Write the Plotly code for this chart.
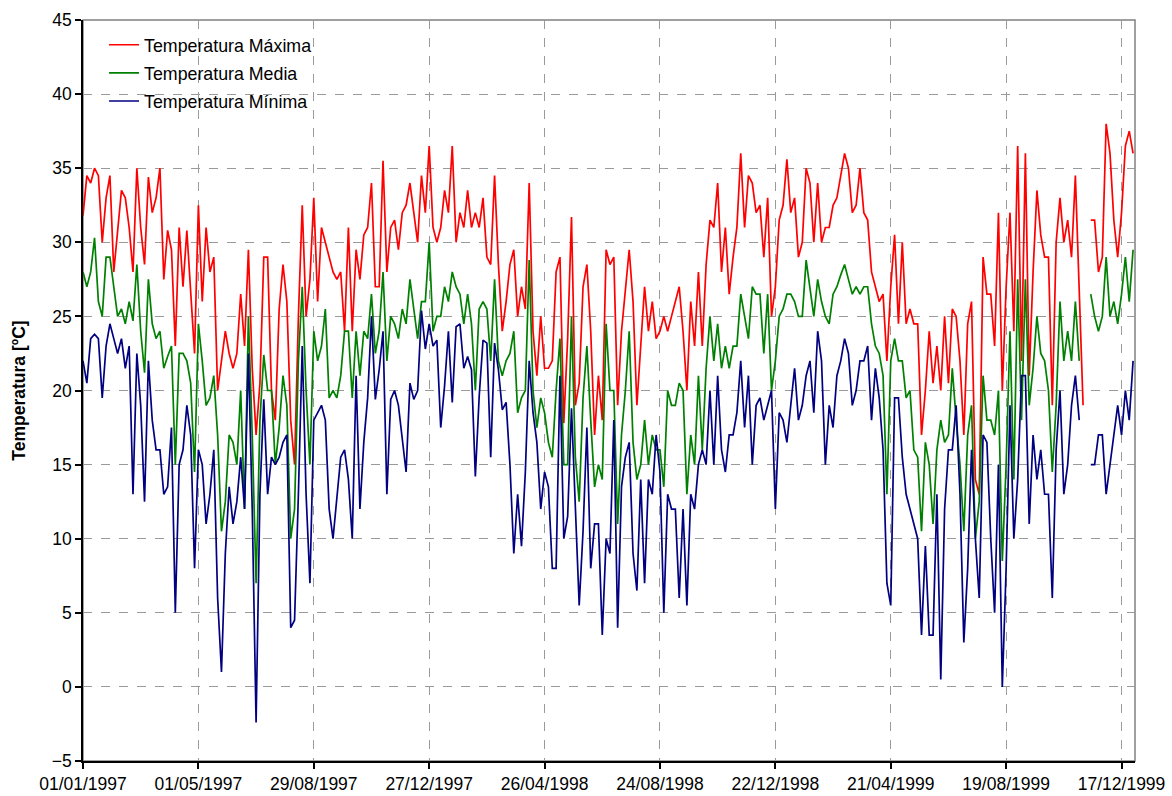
import pandas as pd
import plotly.graph_objects as go

# Sample dates (every 4 days, 01/01/1997 .. 29/12/1999)
dates = pd.date_range("1997-01-01", periods=274, freq="4D")

t_max = [
    31.8, 34.5, 34, 35, 34.5, 30, 33, 34.5, 28, 31, 33.5, 33, 31, 28, 35, 31, 28.5, 34.4, 32, 33,
    35, 27.5, 30.8, 29.5, 23, 31, 27, 30.8, 27, 22.5, 32.5, 26, 31, 28, 29, 20,
    22, 24, 22.5, 21.5, 22.5, 26.5, 23, 29.5, 21.5, 17, 20.5, 29, 29, 20, 18, 25.5, 28.5, 26, 18, 15,
    25, 32.5, 25, 27.5, 33, 26, 31, 30, 29, 28, 27.5, 28, 24, 31, 24,
    29.5, 27.5, 30.5, 31, 34, 27, 27, 35.5, 28, 31, 31.5, 29.5, 32, 32.5, 34, 32, 30, 34.5, 32, 36.5,
    31, 30, 31, 33.5, 32, 36.5, 30, 32, 31, 33.5, 31, 32, 31, 33, 29, 28.5, 34.5, 28.5, 24, 26, 28.5, 29.5,
    25, 27, 25.5, 34, 24, 21, 25, 21.5, 21.5, 22, 28, 29, 17.8, 23.5, 31.7, 19, 20.5, 27, 28.5, 24,
    17, 21, 18, 29.5, 28.5, 29, 19, 24, 27, 29.5, 26, 19, 23, 27, 24, 26, 23.5, 24, 25, 24, 25,
    26, 27, 24, 20, 26, 23, 28, 23, 28.5, 31.5, 31, 34, 28, 31, 26.5, 29, 31, 36, 31, 34.5,
    34, 32, 32.5, 29, 33, 25, 27, 31.5, 32.5, 35.6, 32, 33, 29, 30, 35, 34, 30, 34, 30, 31, 31, 32.5,
    33, 34.5, 36, 35, 32, 32.5, 35, 32, 31.5, 28, 27, 26, 26.5, 22, 27, 30.5, 24.5, 30, 24.5, 25.5,
    24.5, 24.5, 17, 20, 24, 20.5, 23, 20, 25, 20.5, 25.5, 25, 22, 17, 24.5, 26, 14, 13, 29, 26.5,
    26.5, 23, 32, 20,
    27, 32, 24, 36.5, 22, 36, 21, 28, 33.5, 30.5, 29, 29, 19, 30, 33, 30, 31.5, 29, 34.5, 27,
    19, None, 31.5, 31.5, 28, 29, 38, 36, 31.5, 29, 32, 36.5, 37.5, 36,
]

t_med = [
    28, 27, 28, 30.3, 26, 25, 29, 29, 27, 25, 25.5, 24.5, 26, 24.7, 28.5, 24, 21.2, 27.5, 24.5, 23.5,
    24, 21.5, 22.3, 23, 15, 22.5, 22.5, 22, 20.5, 14.5, 24.5, 22, 19, 19.5, 21, 17,
    10.5, 12.5, 17, 16.5, 15, 20, 12, 25, 17, 7, 18, 22.4, 20, 20, 15, 17.5, 21, 19, 10, 12,
    22, 27, 20, 15, 24, 22, 23, 25.5, 19.5, 20, 19.5, 21, 24, 24, 19.5,
    24, 21, 24, 23.5, 26.5, 22.5, 24, 28, 22, 25, 24.5, 23.5, 25.5, 24.5, 27.5, 25.5, 23.5, 26, 26, 30,
    24, 25, 25, 27, 26, 28, 27, 26.5, 24.5, 26.5, 24.5, 20, 25.5, 26, 25.5, 22, 27.5, 22, 21, 22, 22.5, 24,
    18.5, 19.5, 20, 28.8, 20, 17.5, 19.5, 18.5, 16.5, 15.5, 20, 23.5, 15, 15, 25, 15.5, 12.5, 19.5, 23, 18,
    13.5, 15, 14, 24.5, 20, 20, 11, 17, 20, 24, 16.5, 14, 15, 18, 15, 17, 16, 16, 13.5, 20, 19,
    19, 20.5, 20, 13, 17, 15, 21, 16, 21.5, 25, 22, 24.5, 21.5, 23, 21.5, 23, 23, 26.5, 25, 23.5,
    27, 26.5, 26.5, 22.5, 26.5, 20, 22, 25, 25.5, 26.5, 26.5, 26, 25, 25, 28.8, 27, 25, 27.5, 26, 25, 24.5, 26.5,
    27, 27.8, 28.5, 27.5, 26.5, 27, 26.5, 27, 27, 24.5, 23, 22.5, 21, 13, 22, 23.5, 22, 22, 19.5, 20,
    16, 15.5, 10.5, 16.5, 15, 11, 16, 18, 16.5, 17, 21.5, 18, 15, 10.5, 17, 19, 10, 12.5, 21, 18,
    18, 17, 20, 8.5,
    15, 24, 14, 27.5, 18, 27.5, 19, 21.5, 25, 22.5, 22, 20, 14.5, 19, 26, 22, 24, 22, 26, 22,
    None, None, 26.5, 25, 24, 25, 29, 25, 26, 24.5, 26.5, 29, 26, 29.5,
]

t_min = [
    22, 20.5, 23.5, 23.8, 23.5, 19.5, 23, 24.5, 23.5, 22.5, 23.5, 21.5, 23, 13, 22.5, 19, 12.5, 22, 18, 16,
    16, 13, 13.5, 17.5, 5, 15, 16, 19, 17, 8, 16, 15, 11, 13, 16, 6,
    1, 9, 13.5, 11, 12.5, 15.5, 12, 22.5, 12, -2.4, 13, 19.4, 13, 15.5, 15, 15.5, 16.5, 17, 4, 4.5,
    13, 23, 13, 7, 18, 18.5, 19, 18, 12, 10, 13, 15.5, 16, 14, 10,
    21, 12, 16.5, 19.5, 25, 19.4, 21.4, 24, 13, 19.4, 20, 19, 16.7, 14.5, 20.5, 19.4, 20, 25.4, 22.8, 24.5,
    23, 23.4, 17.5, 20.3, 24, 19.2, 24.3, 24.5, 21.5, 22.3, 21.4, 14.2, 19.6, 23.4, 23.2, 15.5, 23.2, 21.4, 18.7, 19.2, 15, 9,
    13, 9.5, 14.5, 22, 18.5, 16.5, 12, 14.5, 13.5, 8, 8, 21, 10, 11.5, 18.8, 12, 5.5, 10.5, 17.5, 8,
    11, 11, 3.5, 10, 9, 18, 4, 13.5, 15.5, 16.5, 9, 6.5, 14, 7, 14, 13, 17, 14.5, 5, 13, 12,
    12, 6, 12, 5.5, 13, 12, 15, 16, 15, 20, 15, 21, 16, 14.5, 17, 17, 18.5, 22, 17.5, 21,
    15, 19, 19.5, 18, 19, 20, 12, 18.5, 18, 16.5, 19, 21.5, 18, 19, 21, 22, 18.5, 24, 22, 15, 19, 17.5,
    21, 22, 23.5, 22.5, 19, 20, 22, 22, 23, 18, 21.5, 19.5, 16, 7, 5.5, 19.5, 19.5, 15.5, 13, 12,
    11, 10, 3.5, 9.5, 3.5, 3.5, 13, 0.5, 12, 16, 16, 19, 13, 3, 8, 16, 10, 6, 17, 16.5,
    10, 5, 15, 0,
    8, 19, 10, 14, 21, 21, 11, 17, 14, 16, 13, 13, 6, 16, 20, 13, 15, 19, 21, 18,
    None, None, 15, 15, 17, 17, 13, 15, 17, 19, 17, 20, 18, 22,
]

series_names = ["Temperatura Máxima", "Temperatura Media", "Temperatura Mínima"]
series_colors = ["#FF0000", "#008000", "#000080"]
y_ticks = list(range(-5, 50, 5))

FONT = "Liberation Sans, Arial, sans-serif"

fig = go.Figure()
for i, (vals, name, col) in enumerate(zip([t_max, t_med, t_min], series_names, series_colors)):
    fig.add_trace(go.Scatter(
        x=dates, y=vals, mode="lines", name=name,
        line=dict(color=col, width=1.7),
        connectgaps=False, legendgroup=f"g{i}",
    ))

fig.update_layout(
    width=1172, height=796,
    margin=dict(l=83, r=37, t=20, b=35, autoexpand=False),
    paper_bgcolor="white", plot_bgcolor="white",
    font=dict(family=FONT, size=17, color="black"),
    showlegend=True,
    legend=dict(
        x=0.02, y=0.991, xanchor="left", yanchor="top",
        bgcolor="rgba(0,0,0,0)", font=dict(family=FONT, size=17.8, color="black"),
        tracegroupgap=2, itemwidth=30,
    ),
    shapes=[dict(type="rect", xref="paper", yref="paper", x0=0, y0=0, x1=1, y1=1,
                 line=dict(color="#808080", width=1.5), layer="below")],
)

fig.update_xaxes(
    type="date", range=["1997-01-01", "1999-12-31"],
    tick0="1997-01-01", dtick=120 * 86400000, tickformat="%d/%m/%Y",
    showgrid=True, gridcolor="#9a9a9a", griddash="dash", gridwidth=1,
    showline=True, linecolor="black", linewidth=1.5,
    ticks="outside", ticklen=6, tickcolor="black", tickwidth=1.5,
    tickfont=dict(family=FONT, size=17.5, color="black"),
    zeroline=False, automargin=False,
)
fig.update_yaxes(
    range=[-5, 45], tickvals=y_ticks,
    showgrid=True, gridcolor="#9a9a9a", griddash="dash", gridwidth=1,
    showline=True, linecolor="black", linewidth=1.5,
    ticks="outside", ticklen=6, tickcolor="black", tickwidth=1.5,
    tickfont=dict(family=FONT, size=17.5, color="black"),
    zeroline=False, automargin=False,
    title=dict(text="<b>Temperatura [ºC]</b>", font=dict(family=FONT, size=17.5, color="black"), standoff=22),
)

fig.write_html("out.html", config={"displayModeBar": False},
               post_script="document.body.style.margin='0';")
